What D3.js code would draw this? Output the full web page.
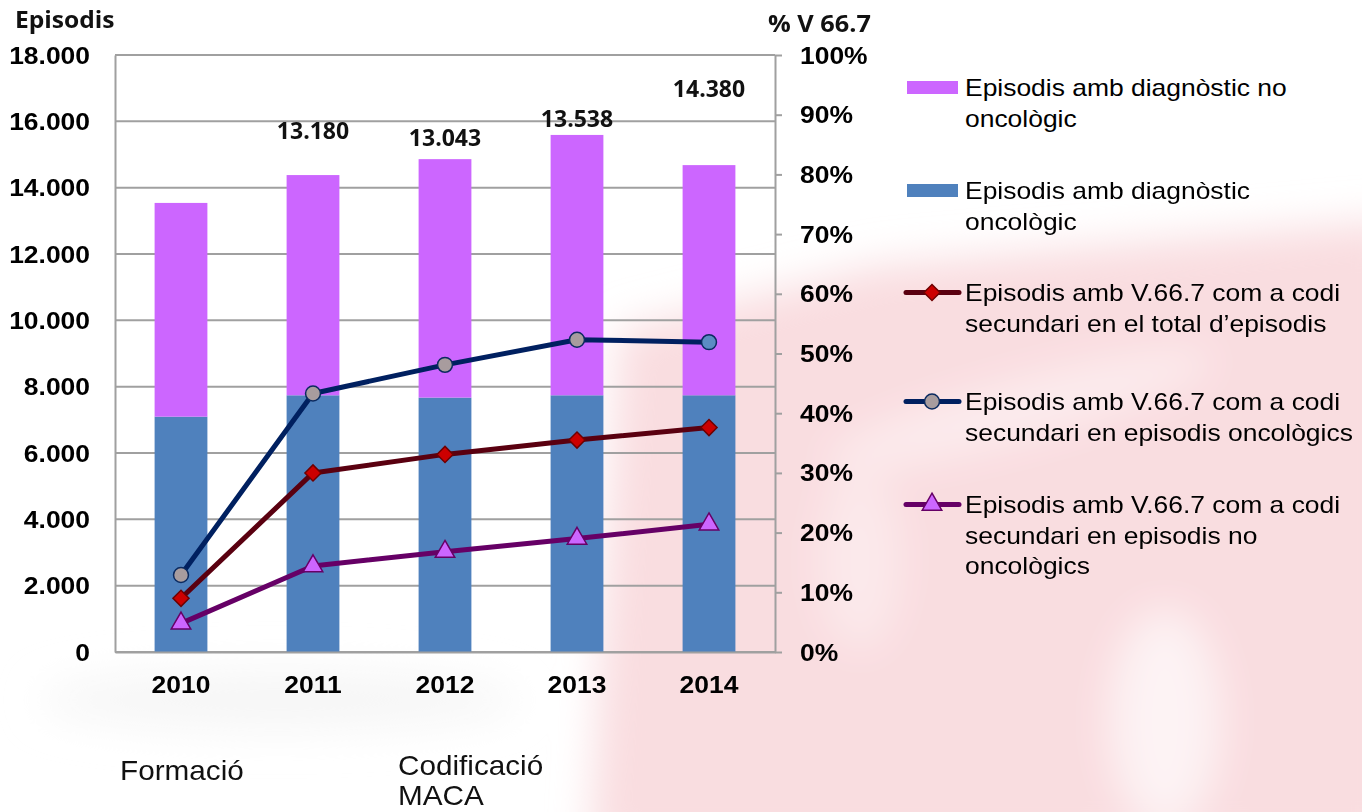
<!DOCTYPE html>
<html>
<head>
<meta charset="utf-8">
<script src="https://cdn.jsdelivr.net/npm/d3@7"></script>
<style>
  body { margin: 0; background: #fff; }
  svg { display: block; }
  .tick-lbl { font-family: "Liberation Sans", Arial, sans-serif; font-weight: bold; font-size: 23px; fill: #000; }
  .note { font-family: "Open Sans", sans-serif; font-weight: bold; font-size: 23px; fill: #111; }
  .legend-txt { font-family: "Liberation Sans", Arial, sans-serif; font-size: 23px; fill: #000; }
  .foot { font-family: "Liberation Sans", Arial, sans-serif; font-size: 27px; fill: #111; }
</style>
</head>
<body>
<div id="chart"></div>
<script>
/////////////////////////////////////
///      DATA
/////////////////////////////////////
var years = ["2010", "2011", "2012", "2013", "2014"];
var oncologic = [7095, 7740, 7670, 7740, 7740];
var nonOncologic = [6445, 6640, 7190, 7850, 6940];
var pctTotal = [9.0, 30.0, 33.1, 35.5, 37.6];
var pctOnco = [12.9, 43.3, 48.1, 52.3, 51.9];
var pctNoOnco = [4.8, 14.4, 16.8, 19.0, 21.4];
var leftTicks = [0, 2000, 4000, 6000, 8000, 10000, 12000, 14000, 16000, 18000];
var rightTicks = [0, 10, 20, 30, 40, 50, 60, 70, 80, 90, 100];
// hand placed value notes (level in episodes)
var noteYears = ["2011", "2012", "2013", "2014"];
var noteTexts = ["13.180", "13.043", "13.538", "14.380"];
var noteLevels = [15460, 15260, 15840, 16740];
var legendLabels = [
  ["Episodis amb diagnòstic no", "oncològic"],
  ["Episodis amb diagnòstic", "oncològic"],
  ["Episodis amb V.66.7 com a codi", "secundari en el total d\u2019episodis"],
  ["Episodis amb V.66.7 com a codi", "secundari en episodis oncològics"],
  ["Episodis amb V.66.7 com a codi", "secundari en episodis no", "oncològics"]
];

var width = 1362, height = 812;
var SX = 1.15;   // the picture is a bit wide, stretch text to match
var plot = {left: 115, right: 775, top: 55, bottom: 652};

var svg = d3.select("#chart").append("svg")
    .attr("width", width).attr("height", height);

/////////////////////////////////////
///      BACKGROUND (blurred watermark)
/////////////////////////////////////
var defs = svg.append("defs");
defs.append("filter").attr("id", "blur").attr("x", "-50%").attr("y", "-50%")
    .attr("width", "200%").attr("height", "200%")
  .append("feGaussianBlur").attr("stdDeviation", 20);

var bg = svg.append("g").attr("filter", "url(#blur)");
bg.append("path").attr("d", "M620,330 L880,265 L1400,220 L1400,850 L590,850 Z")
  .attr("fill", "#f9dde0");
bg.append("ellipse").attr("cx", 1165).attr("cy", 720).attr("rx", 55).attr("ry", 110).attr("fill", "#fdf3f4");
bg.append("ellipse").attr("cx", 1020).attr("cy", 410).attr("rx", 200).attr("ry", 28)
  .attr("transform", "rotate(-15,1020,410)").attr("fill", "#fcecee");
bg.append("ellipse").attr("cx", 860).attr("cy", 560).attr("rx", 40).attr("ry", 90).attr("fill", "#fbe9eb");
bg.append("ellipse").attr("cx", 280).attr("cy", 700).attr("rx", 240).attr("ry", 30).attr("fill", "#f6f6f6");

/////////////////////////////////////
///      SCALES
/////////////////////////////////////
var x = d3.scaleBand().domain(years).range([plot.left, plot.right])
    .paddingInner(0.6).paddingOuter(0.3);
var y = d3.scaleLinear().domain([0, 18000]).range([plot.bottom, plot.top]);
var yPct = d3.scaleLinear().domain([0, 100]).range([plot.bottom, plot.top]);
var cx = function(yr) { return x(yr) + x.bandwidth() / 2; };

var caLocale = d3.formatLocale({decimal: ",", thousands: ".", grouping: [3], currency: ["", "\u20ac"]});
var fmt = caLocale.format(",d");

function stretch(sel, k) {
  sel.each(function() {
    var t = d3.select(this);
    var tx = +t.attr("x") || 0, ty = +t.attr("y") || 0;
    t.attr("x", null).attr("y", null)
     .attr("transform", "translate(" + tx + "," + ty + ") scale(" + (k || SX) + ",1)");
  });
  return sel;
}

/////////////////////////////////////
///      GRID + AXES
/////////////////////////////////////
svg.append("g").selectAll("line").data(leftTicks).join("line")
   .attr("x1", plot.left).attr("x2", plot.right)
   .attr("y1", function(d) { return y(d); }).attr("y2", function(d) { return y(d); })
   .attr("stroke", "#a0a0a0").attr("stroke-width", 2);

// bars
var stacked = years.map(function(yr, i) { return {year: yr, onc: oncologic[i], non: nonOncologic[i]}; });
var barG = svg.append("g");
barG.selectAll("rect.onc").data(stacked).join("rect").attr("class", "onc")
   .attr("x", function(d) { return x(d.year); }).attr("width", x.bandwidth())
   .attr("y", function(d) { return y(d.onc); })
   .attr("height", function(d) { return y(0) - y(d.onc); })
   .attr("fill", "#4f81bd");
barG.selectAll("rect.non").data(stacked).join("rect").attr("class", "non")
   .attr("x", function(d) { return x(d.year); }).attr("width", x.bandwidth())
   .attr("y", function(d) { return y(d.onc + d.non); })
   .attr("height", function(d) { return y(d.onc) - y(d.onc + d.non); })
   .attr("fill", "#cc66ff");

// left axis
var gl = svg.append("g").attr("transform", "translate(" + plot.left + ",0)")
   .call(d3.axisLeft(y).tickValues(leftTicks).tickFormat(fmt).tickSize(0).tickPadding(0));
gl.select(".domain").attr("stroke", "#a0a0a0").attr("stroke-width", 2);
gl.selectAll(".tick text").attr("class", "tick-lbl").attr("dy", "0.35em")
  .each(function() {
    d3.select(this).attr("x", null).attr("transform", "translate(-25,0) scale(" + SX + ",1)");
  });

// right axis
var gr = svg.append("g").attr("transform", "translate(" + plot.right + ",0)")
   .call(d3.axisRight(yPct).tickValues(rightTicks).tickFormat(function(d) { return d + "%"; })
        .tickSize(7).tickSizeOuter(0));
gr.select(".domain").attr("stroke", "#a0a0a0").attr("stroke-width", 2);
gr.selectAll(".tick line").attr("stroke", "#a0a0a0").attr("stroke-width", 2);
gr.selectAll(".tick text").attr("class", "tick-lbl").attr("dy", "0.35em")
  .each(function() {
    d3.select(this).attr("x", null).attr("transform", "translate(25,0) scale(" + SX + ",1)");
  });

// bottom axis
var gb = svg.append("g").attr("transform", "translate(0," + plot.bottom + ")")
   .call(d3.axisBottom(x).tickSize(0).tickPadding(0));
gb.select(".domain").attr("stroke", "#a0a0a0").attr("stroke-width", 2);
gb.selectAll(".tick text").attr("class", "tick-lbl").attr("dy", null)
  .each(function() {
    d3.select(this).attr("y", null).attr("transform", "translate(0,41) scale(" + SX + ",1)");
  });

/////////////////////////////////////
///      LINES
/////////////////////////////////////
var series = [
  {vals: pctTotal, line: "#5a0010", width: 5, marker: "diamond", fill: "#cc0000", stroke: "#6e0000"},
  {vals: pctOnco, line: "#002060", width: 5, marker: "circle", fill: "#a89c9e", stroke: "#0b2a60"},
  {vals: pctNoOnco, line: "#660066", width: 5, marker: "triangle", fill: "#cc66ff", stroke: "#660066"}
];
var onco2014Fill = "#5b8cc4";

var lineGen = d3.line()
   .x(function(d) { return cx(d.year); })
   .y(function(d) { return yPct(d.v); });

function markerPath(kind) {
  if (kind === "diamond") return d3.symbol(d3.symbolSquare, 130)();
  if (kind === "triangle") return d3.symbol(d3.symbolTriangle, 165)();
  return d3.symbol(d3.symbolCircle, 175)();
}

series.forEach(function(s) {
  var pts = years.map(function(yr, i) { return {year: yr, v: s.vals[i]}; });
  svg.append("path").datum(pts).attr("d", lineGen)
     .attr("fill", "none").attr("stroke", s.line).attr("stroke-width", s.width)
     .attr("stroke-linejoin", "round");
  svg.append("g").selectAll("path").data(pts).join("path")
     .attr("d", markerPath(s.marker))
     .attr("transform", function(d) {
        return "translate(" + cx(d.year) + "," + yPct(d.v) + ")" + (s.marker === "diamond" ? " rotate(45)" : "");
     })
     .attr("fill", function(d) { return (s.marker === "circle" && d.year === "2014") ? onco2014Fill : s.fill; })
     .attr("stroke", s.stroke).attr("stroke-width", 1.5);
});

/////////////////////////////////////
///      TEXTS
/////////////////////////////////////
svg.append("text").attr("class", "note").attr("x", 15).attr("y", 28).text("Episodis")
   .call(stretch, 1.07);
svg.append("text").attr("class", "note").attr("x", 768).attr("y", 32).text("% V 66.7")
   .call(stretch, 1.1);

noteTexts.forEach(function(t, i) {
  svg.append("text").attr("class", "note").attr("text-anchor", "middle")
     .attr("x", cx(noteYears[i])).attr("y", y(noteLevels[i])).text(t)
     .call(stretch, 1.0);
});

svg.append("text").attr("class", "foot").attr("x", 120).attr("y", 780).text("Formació").call(stretch, 1.1);
svg.append("text").attr("class", "foot").attr("x", 398).attr("y", 775).text("Codificació").call(stretch, 1.1);
svg.append("text").attr("class", "foot").attr("x", 398).attr("y", 805).text("MACA").call(stretch, 1.1);

/////////////////////////////////////
///      LEGEND
/////////////////////////////////////
var legendBase = [96, 199, 301, 410, 513];
var legend = svg.append("g");
legendLabels.forEach(function(lines, i) {
  var by = legendBase[i], my = by - 8.5;
  if (i === 0 || i === 1) {
    legend.append("rect").attr("x", 907).attr("y", my - 6.5).attr("width", 51).attr("height", 13)
          .attr("fill", i === 0 ? "#cc66ff" : "#4f81bd");
  } else {
    var s = series[i - 2];
    legend.append("line").attr("x1", 906).attr("x2", 959).attr("y1", my).attr("y2", my)
          .attr("stroke", s.line).attr("stroke-width", 5).attr("stroke-linecap", "round");
    legend.append("path").attr("d", markerPath(s.marker))
          .attr("transform", "translate(932," + my + ")" + (s.marker === "diamond" ? " rotate(45)" : ""))
          .attr("fill", s.fill).attr("stroke", s.stroke).attr("stroke-width", 1.5);
  }
  lines.forEach(function(l, j) {
    legend.append("text").attr("class", "legend-txt")
          .attr("x", 965).attr("y", by + j * 30.5).text(l)
          .call(stretch);
  });
});
</script>
</body>
</html>
